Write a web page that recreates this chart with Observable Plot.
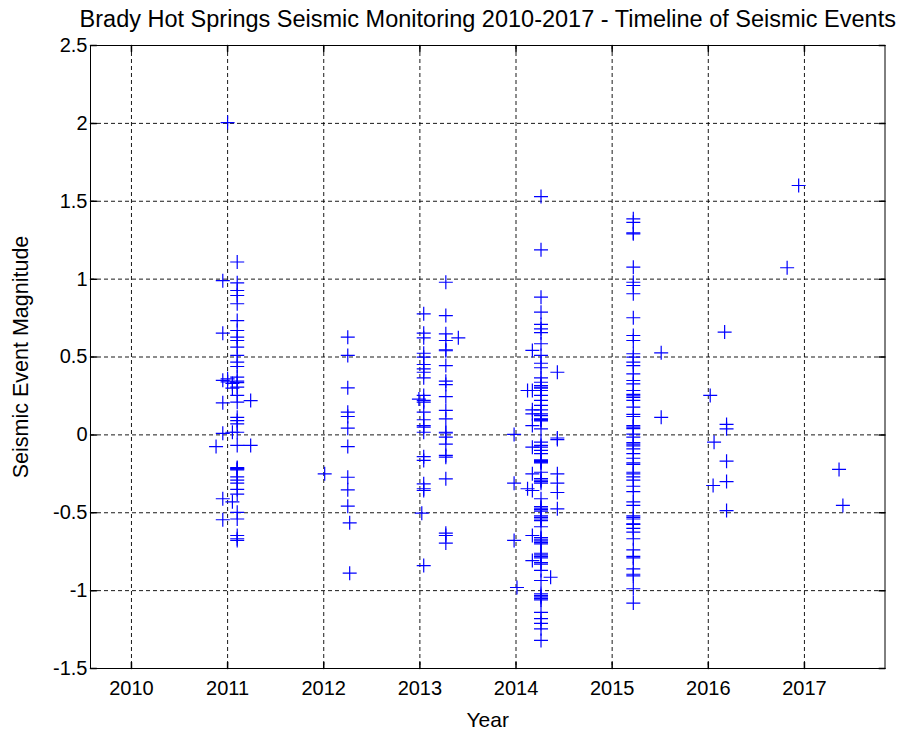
<!DOCTYPE html>
<html>
<head>
<meta charset="utf-8">
<script src="https://cdn.jsdelivr.net/npm/d3@7"></script>
<script src="https://cdn.jsdelivr.net/npm/@observablehq/plot@0.6"></script>
<style>
  html, body { margin: 0; padding: 0; background: #fff; }
  #chart { width: 906px; height: 733px; }
</style>
</head>
<body>
<div id="chart"></div>
<script>
// ---- Data ----
const titleText = "Brady Hot Springs Seismic Monitoring 2010-2017 - Timeline of Seismic Events";
const xLabelText = "Year";
const yLabelText = "Seismic Event Magnitude";
const xTicks = [2010, 2011, 2012, 2013, 2014, 2015, 2016, 2017];
const yTicks = [-1.5, -1, -0.5, 0, 0.5, 1, 1.5, 2, 2.5];

// dense columns of events (one acquisition date each)
const col2011Year = 2011.10;
const col2011Mags = [1.11, 0.976, 0.927, 0.895, 0.842, 0.734, 0.670, 0.627, 0.606, 0.563, 0.510, 0.467, 0.439, 0.371, 0.345, 0.335, 0.306, 0.253, 0.210, 0.113, 0.092, 0.071, 0.017, -0.068, -0.21, -0.215, -0.22, -0.225, -0.27, -0.29, -0.31, -0.35, -0.38, -0.497, -0.54, -0.646, -0.667, -0.678];

const col2012Year = 2012.25;
const col2012Mags = [0.627, 0.510, 0.302, 0.146, 0.118, 0.043, -0.075, -0.272, -0.353, -0.458];

const col2013aYear = 2013.04;
const col2013aMags = [0.777, 0.653, 0.623, 0.524, 0.499, 0.452, 0.424, 0.402, 0.366, 0.253, 0.221, 0.210, 0.146, 0.097, 0.060, 0.050, 0.017, -0.14, -0.164, -0.314, -0.346, -0.357, -0.839];

const col2013bYear = 2013.27;
const col2013bMags = [0.980, 0.766, 0.649, 0.606, 0.546, 0.540, 0.445, 0.345, 0.323, 0.246, 0.157, 0.103, 0.017, 0.012, -0.015, -0.06, -0.132, -0.143, -0.282, -0.631, -0.646, -0.695];

const col2014Year = 2014.26;
const col2014Mags = [1.530, 1.188, 0.884, 0.788, 0.709, 0.681, 0.656, 0.585, 0.510, 0.460, 0.431, 0.366, 0.338, 0.317, 0.306, 0.300, 0.285, 0.253, 0.221, 0.189, 0.161, 0.135, 0.124, 0.103, 0.10, 0.095, 0.09, 0.039, -0.047, -0.068, -0.079, -0.100, -0.121, -0.16, -0.165, -0.17, -0.175, -0.18, -0.24, -0.28, -0.29, -0.30, -0.31, -0.41, -0.46, -0.47, -0.48, -0.49, -0.52, -0.53, -0.54, -0.55, -0.59, -0.66, -0.67, -0.68, -0.69, -0.70, -0.76, -0.77, -0.78, -0.79, -0.82, -0.83, -0.87, -0.935, -1.02, -1.03, -1.04, -1.05, -1.06, -1.14, -1.18, -1.21, -1.245, -1.32];

const col2015Year = 2015.22;
const col2015Mags = [1.387, 1.365, 1.297, 1.291, 1.077, 0.980, 0.959, 0.906, 0.752, 0.638, 0.606, 0.521, 0.499, 0.467, 0.445, 0.392, 0.349, 0.328, 0.285, 0.26, 0.25, 0.24, 0.221, 0.178, 0.131, 0.118, 0.06, 0.05, 0.04, 0.005, -0.015, -0.05, -0.06, -0.07, -0.09, -0.12, -0.15, -0.18, -0.19, -0.24, -0.25, -0.27, -0.29, -0.33, -0.365, -0.43, -0.453, -0.52, -0.53, -0.54, -0.571, -0.575, -0.60, -0.625, -0.667, -0.738, -0.78, -0.79, -0.86, -0.895, -0.905, -0.988, -1.08];

// scattered single events
const otherYears = [2011.00, 2010.95, 2010.95, 2010.95, 2010.95, 2010.95, 2010.95, 2010.95, 2011.00, 2011.00, 2011.05, 2011.05, 2011.05, 2011.05, 2011.24, 2011.24, 2010.88,
  2012.01, 2012.27, 2012.27,
  2012.99, 2013.02, 2013.40,
  2014.17, 2014.17, 2014.17, 2014.17, 2014.17, 2014.17, 2014.17, 2014.17, 2014.17, 2014.17, 2014.12, 2014.12, 2013.98, 2013.98, 2013.98, 2014.01, 2014.43, 2014.43, 2014.43, 2014.43, 2014.43, 2014.43, 2014.43, 2014.36,
  2015.51, 2015.51,
  2016.17, 2016.02, 2016.19, 2016.19, 2016.19, 2016.19, 2016.19, 2016.06, 2016.05, 2016.82, 2016.94, 2017.36, 2017.40];
const otherMags = [2.005, 0.99, 0.653, 0.35, 0.206, 0.01, -0.41, -0.545, 0.36, 0.34, 0.33, 0.30, 0.017, -0.43, 0.22, -0.068, -0.075,
  -0.25, -0.565, -0.888,
  0.23, -0.503, 0.623,
  0.542, 0.285, 0.161, 0.135, 0.06, -0.079, -0.25, -0.357, -0.646, -0.807, 0.285, -0.346, 0.003, -0.31, -0.678, -0.98, 0.402, -0.02, -0.03, -0.25, -0.31, -0.37, -0.475, -0.914,
  0.527, 0.113,
  0.66, 0.253, 0.067, 0.039, -0.169, -0.30, -0.486, -0.047, -0.325, 1.073, 1.601, -0.222, -0.453];

// ---- build table ----
const columns = [
  [col2011Year, col2011Mags], [col2012Year, col2012Mags],
  [col2013aYear, col2013aMags], [col2013bYear, col2013bMags],
  [col2014Year, col2014Mags], [col2015Year, col2015Mags]
];
const events = [];
for (const [yr, mags] of columns) for (const m of mags) events.push({year: yr, mag: m});
otherYears.forEach((yr, i) => events.push({year: yr, mag: otherMags[i]}));

// thin "+" marker (MATLAB style)
const plusSymbol = {
  draw(context, size) {
    const r = Math.sqrt(size / Math.PI);
    context.moveTo(-r, 0); context.lineTo(r, 0);
    context.moveTo(0, -r); context.lineTo(0, r);
  }
};
// inward tick shape for vectors
const tickShape = {
  draw(context, l) { context.moveTo(0, 0); context.lineTo(0, -l); }
};

const font = "'Liberation Sans', Arial, Helvetica, sans-serif";
const gridStyle = {stroke: "#000", strokeOpacity: 0.9, strokeWidth: 1, strokeDasharray: "4,3"};

const chart = Plot.plot({
  width: 906,
  height: 733,
  marginLeft: 90,
  marginRight: 21.5,
  marginTop: 45,
  marginBottom: 65,
  style: {fontFamily: font, fontSize: "20px", color: "#000", background: "#fff"},
  x: {domain: [2009.574, 2017.838]},
  y: {domain: [-1.5, 2.5]},
  marks: [
    Plot.gridX(xTicks, gridStyle),
    Plot.gridY(yTicks, gridStyle),
    Plot.frame({stroke: "#000", strokeWidth: 1}),
    Plot.vector(xTicks, {x: d => d, frameAnchor: "bottom", length: 6, rotate: 0, anchor: "start", shape: tickShape, stroke: "#000"}),
    Plot.vector(xTicks, {x: d => d, frameAnchor: "top", length: 6, rotate: 180, anchor: "start", shape: tickShape, stroke: "#000"}),
    Plot.vector(yTicks, {y: d => d, frameAnchor: "left", length: 6, rotate: 90, anchor: "start", shape: tickShape, stroke: "#000"}),
    Plot.vector(yTicks, {y: d => d, frameAnchor: "right", length: 6, rotate: -90, anchor: "start", shape: tickShape, stroke: "#000"}),
    Plot.axisX(xTicks, {anchor: "bottom", tickSize: 0, tickPadding: 12, tickFormat: d => String(d), label: null, fontSize: 20}),
    Plot.axisY(yTicks, {anchor: "left", tickSize: 0, tickPadding: 3, tickFormat: d => String(d), label: null, fontSize: 20}),
    Plot.text([xLabelText], {text: d => d, frameAnchor: "bottom", dy: 52, lineAnchor: "middle", textAnchor: "middle", fontSize: 21}),
    Plot.text([yLabelText], {text: d => d, frameAnchor: "left", dx: -69, rotate: -90, lineAnchor: "middle", textAnchor: "middle", fontSize: 21.5}),
    Plot.text([titleText], {text: d => d, frameAnchor: "top", dy: -26, lineAnchor: "middle", textAnchor: "middle", fontSize: 23.5}),
    Plot.dot(events, {x: "year", y: "mag", symbol: plusSymbol, r: 7, stroke: "#0000ff", fill: "none", strokeWidth: 1.2})
  ]
});
document.getElementById("chart").appendChild(chart);
</script>
</body>
</html>
